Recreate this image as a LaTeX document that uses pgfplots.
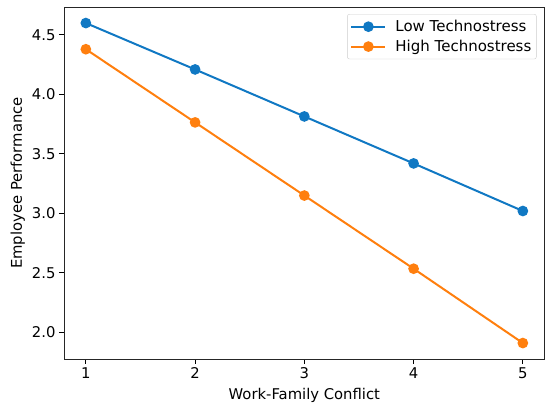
\documentclass[border=0pt]{standalone}
\usepackage{pgfplots}
\pgfplotsset{compat=1.18}
\usepackage{fontspec}
\setmainfont{DejaVu Sans}
\definecolor{cblue}{RGB}{16,120,195}
\definecolor{corange}{RGB}{255,127,14}
\begin{document}
\begin{tikzpicture}[x=1pt,y=1pt]
\begin{axis}[
  name=ax, at={(0,0)}, anchor=south west,
  scale only axis, width=480.7pt, height=352pt,
  xmin=0.8, xmax=5.2, ymin=1.776, ymax=4.735,
  xtick={1,2,3,4,5}, ytick={2.0,2.5,3.0,3.5,4.0,4.5},
  yticklabel style={/pgf/number format/.cd,fixed,fixed zerofill,precision=1},
  /pgf/number format/assume math mode=true,
  tick align=outside, tick style={black, line width=0.9pt},
  major tick length=5pt,
  xtick pos=bottom, ytick pos=left,
  axis line style={line width=0.9pt, black!85},
  ticklabel style={font=\fontsize{14.8}{17}\selectfont},
  label style={font=\fontsize{14.8}{17}\selectfont},
  xlabel={Work-Family Conflict}, ylabel={Employee Performance},
  xlabel style={yshift=-3pt}, ylabel style={yshift=0pt},
  legend style={at={(0.983,0.98)}, anchor=north east, draw=black!20, rounded corners=2pt,
    font=\fontsize{15}{17}\selectfont, row sep=3pt, column sep=7pt, inner xsep=3pt, inner ysep=4pt},
  legend cell align=left,
  legend image code/.code={\draw[#1] (0pt,0pt) -- (34pt,0pt); \draw[#1,only marks] plot coordinates {(17pt,0pt)};},
]
\addplot[cblue, line width=2pt, mark=*, mark size=4.3pt] coordinates {
 (1,4.60) (2,4.21) (3,3.815) (4,3.42) (5,3.02)};
\addlegendentry{Low Technostress}
\addplot[corange, line width=2pt, mark=*, mark size=4.3pt] coordinates {
 (1,4.38) (2,3.765) (3,3.15) (4,2.535) (5,1.91)};
\addlegendentry{High Technostress}
\end{axis}
\useasboundingbox (ax.south west) ++(-64,-50) rectangle ++(550,409);
\end{tikzpicture}
\end{document}
